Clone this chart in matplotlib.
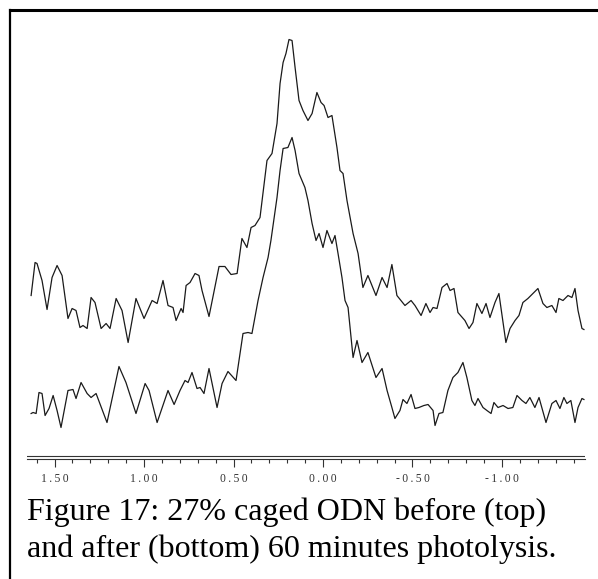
import matplotlib
matplotlib.use("Agg")
import matplotlib.pyplot as plt
from matplotlib.lines import Line2D
from matplotlib.ticker import MultipleLocator, FixedLocator

# chemical shift (ppm) and intensity (a.u.)
ppm_top = [1.631, 1.609, 1.598, 1.570, 1.542, 1.514, 1.486, 1.458, 1.425, 1.402,
           1.380, 1.358, 1.341, 1.318, 1.296, 1.274, 1.240, 1.212, 1.190, 1.156,
           1.123, 1.089, 1.045, 1.000, 0.955, 0.927, 0.894, 0.866, 0.838, 0.821,
           0.793, 0.782, 0.765, 0.743, 0.715, 0.693, 0.676, 0.637, 0.581, 0.548,
           0.514, 0.480, 0.453, 0.425, 0.402, 0.380, 0.352, 0.313, 0.285, 0.257,
           0.240, 0.223, 0.207, 0.190, 0.173, 0.156, 0.134, 0.112, 0.084, 0.061,
           0.034, 0.011, -0.006, -0.028, -0.050, -0.078, -0.095, -0.112, -0.134, -0.168,
           -0.196, -0.223, -0.251, -0.296, -0.330, -0.358, -0.385, -0.413, -0.458, -0.492,
           -0.514, -0.548, -0.575, -0.598, -0.615, -0.637, -0.665, -0.693, -0.710, -0.732,
           -0.754, -0.793, -0.816, -0.838, -0.860, -0.888, -0.911, -0.933, -0.961, -0.983,
           -1.022, -1.045, -1.073, -1.095, -1.117, -1.145, -1.173, -1.201, -1.229, -1.251,
           -1.279, -1.302, -1.318, -1.341, -1.369, -1.391, -1.408, -1.425, -1.447, -1.458]
int_top = [160, 193, 192, 175, 146, 178, 190, 180, 137, 147,
           145, 128, 130, 127, 158, 153, 127, 132, 127, 157,
           145, 113, 157, 137, 155, 152, 175, 150, 148, 135,
           147, 143, 170, 173, 182, 180, 165, 139, 189, 189,
           181, 182, 217, 208, 228, 230, 238, 295, 302, 332,
           372, 393, 402, 416, 415, 388, 355, 345, 335, 342,
           363, 353, 350, 338, 340, 308, 285, 282, 255, 222,
           202, 168, 180, 160, 178, 168, 191, 160, 150, 155,
           150, 140, 152, 143, 148, 147, 168, 172, 165, 167,
           143, 135, 127, 133, 152, 142, 152, 138, 153, 162,
           113, 127, 135, 140, 153, 157, 162, 167, 152, 148,
           150, 143, 157, 155, 160, 158, 167, 145, 127, 126]

ppm_bottom = [1.631, 1.620, 1.603, 1.587, 1.570, 1.553, 1.531, 1.508, 1.486, 1.464,
              1.425, 1.397, 1.380, 1.352, 1.318, 1.296, 1.268, 1.207, 1.140, 1.101,
              1.045, 0.994, 0.972, 0.927, 0.866, 0.832, 0.799, 0.771, 0.754, 0.732,
              0.704, 0.687, 0.665, 0.637, 0.592, 0.564, 0.531, 0.486, 0.447, 0.419,
              0.397, 0.363, 0.335, 0.307, 0.291, 0.257, 0.240, 0.223, 0.196, 0.173,
              0.156, 0.134, 0.101, 0.084, 0.061, 0.039, 0.022, 0.000, -0.022, -0.050,
              -0.067, -0.084, -0.106, -0.123, -0.140, -0.168, -0.190, -0.218, -0.251, -0.296,
              -0.330, -0.358, -0.385, -0.402, -0.430, -0.447, -0.469, -0.492, -0.514, -0.536,
              -0.564, -0.587, -0.615, -0.626, -0.648, -0.670, -0.698, -0.726, -0.754, -0.782,
              -0.804, -0.832, -0.849, -0.866, -0.894, -0.916, -0.939, -0.955, -0.978, -1.006,
              -1.034, -1.061, -1.084, -1.112, -1.134, -1.156, -1.184, -1.207, -1.246, -1.279,
              -1.302, -1.324, -1.346, -1.363, -1.385, -1.408, -1.425, -1.447, -1.458]
int_bottom = [42, 43, 42, 63, 62, 40, 47, 60, 45, 28,
              65, 66, 57, 73, 62, 58, 62, 33, 89, 73,
              42, 72, 65, 33, 65, 51, 65, 75, 73, 83,
              67, 68, 62, 87, 48, 72, 84, 75, 122, 123,
              122, 155, 178, 198, 215, 258, 285, 307, 308, 318,
              305, 282, 268, 255, 232, 215, 222, 208, 225, 212,
              220, 202, 178, 155, 148, 98, 115, 93, 103, 78,
              87, 65, 48, 37, 45, 56, 52, 61, 47, 48,
              50, 51, 45, 30, 42, 43, 65, 78, 83, 93,
              78, 55, 50, 57, 48, 45, 42, 53, 48, 50,
              47, 48, 60, 55, 52, 58, 48, 58, 33, 52,
              55, 47, 58, 52, 55, 33, 48, 57, 56]

major_ticks = [1.5, 1.0, 0.5, 0.0, -0.5, -1.0]
tick_labels = ["1.50", "1.00", "0.50", "0.00", "-0.50", "-1.00"]
caption = ["Figure 17: 27% caged ODN before (top)",
           "and after (bottom) 60 minutes photolysis."]

W, H = 598, 579
fig = plt.figure(figsize=(W / 100, H / 100), dpi=100)
ax = fig.add_axes([27 / W, 1 - 459 / H, (585 - 27) / W, (459 - 10) / H])

ax.plot(ppm_top, int_top, color="#1a1a1a", lw=0.9, solid_joinstyle="round")
ax.plot(ppm_bottom, int_bottom, color="#1a1a1a", lw=0.9, solid_joinstyle="round")
ax.axhline(0, color="#333333", lw=0.8)  # upper line of the double axis line

ax.set_xlim(1.654, -1.464)
ax.set_ylim(-3.5, 445.5)
for s in ["top", "right", "left"]:
    ax.spines[s].set_visible(False)
ax.spines["bottom"].set_linewidth(0.8)
ax.spines["bottom"].set_color("#333333")
ax.set_yticks([])

ax.xaxis.set_major_locator(FixedLocator(major_ticks))
ax.xaxis.set_minor_locator(MultipleLocator(0.1))
ax.set_xticklabels(["\u2009".join(t) for t in tick_labels],
                   fontfamily="Liberation Serif", fontsize=8.4, color="#333333")
ax.tick_params(axis="x", which="major", direction="out", length=5.8, width=0.8,
               pad=4.5, color="#333333")
ax.tick_params(axis="x", which="minor", direction="out", length=2.9, width=0.8,
               color="#333333")

# page border lines (top and left)
fig.add_artist(Line2D([10 / W, 1], [1 - 10 / H, 1 - 10 / H], color="black", lw=2.2))
fig.add_artist(Line2D([10 / W, 10 / W], [0, 1 - 10 / H], color="black", lw=1.6))

fig.text(27 / W, 1 - 520 / H, caption[0], fontfamily="Liberation Serif",
         fontsize=23, va="baseline")
fig.text(27 / W, 1 - 557 / H, caption[1], fontfamily="Liberation Serif",
         fontsize=23, va="baseline")

fig.savefig("out.png", dpi=100)
